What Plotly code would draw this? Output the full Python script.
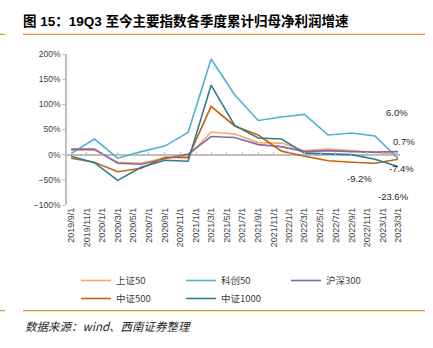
import plotly.graph_objects as go

# Quarter-end reporting periods (plotted at month start)
dates = ["2019-09-01", "2019-12-01", "2020-03-01", "2020-06-01", "2020-09-01",
         "2020-12-01", "2021-03-01", "2021-06-01", "2021-09-01", "2021-12-01",
         "2022-03-01", "2022-06-01", "2022-09-01", "2022-12-01", "2023-03-01"]

# Cumulative YoY growth of net profit attributable to parent (%)
sz50 = [9, 9, -15, -17, -6, -3, 45, 41, 24, 23, 8, 11, 8, 5, 0.7]
kc50 = [2, 31, -7, 6, 17, 44, 190, 119, 68, 75, 80, 39, 43, 37, -7.4]
hs300 = [11, 11, -17, -19, -8, 1, 36, 34, 20, 16, 6, 8, 6, 5, 6.0]
zz500 = [-7, -15, -34, -27, -5, -6, 96, 57, 39, 7, -3, -12, -15, -17, -9.2]
zz1000 = [-3, -16, -51, -25, -11, -13, 138, 58, 33, 31, 3, 1, 0, -9, -23.6]

series_names = ["上证50", "科创50", "沪深300", "中证500", "中证1000"]
series_values = [sz50, kc50, hs300, zz500, zz1000]
series_colors = ["#F9A862", "#4FB3CF", "#8A66B0", "#C8620F", "#2E7D8C"]

tick_dates = ["2019-09-01", "2019-11-01", "2020-01-01", "2020-03-01", "2020-05-01",
              "2020-07-01", "2020-09-01", "2020-11-01", "2021-01-01", "2021-03-01",
              "2021-05-01", "2021-07-01", "2021-09-01", "2021-11-01", "2022-01-01",
              "2022-03-01", "2022-05-01", "2022-07-01", "2022-09-01", "2022-11-01",
              "2023-01-01", "2023-03-01"]
tick_text = ["2019/9/1", "2019/11/1", "2020/1/1", "2020/3/1", "2020/5/1",
             "2020/7/1", "2020/9/1", "2020/11/1", "2021/1/1", "2021/3/1",
             "2021/5/1", "2021/7/1", "2021/9/1", "2021/11/1", "2022/1/1",
             "2022/3/1", "2022/5/1", "2022/7/1", "2022/9/1", "2022/11/1",
             "2023/1/1", "2023/3/1"]

# Latest-quarter value labels: (text, x, y, horizontal shift in px)
end_labels = [("6.0%", "2023-02-25", 84, 0),
              ("0.7%", "2023-03-01", 27, 6),
              ("-7.4%", "2023-03-01", -27, 4),
              ("-9.2%", "2022-10-02", -47, 0),
              ("-23.6%", "2023-02-11", -83, 0)]

W, H = 433, 348
ML, MR, MT, MB = 67, 33, 54, 143
x_range = ["2019-08-16", "2023-03-09"]
FONT = "Liberation Sans, Arial, Noto Sans CJK SC, sans-serif"
CJK = "Noto Sans CJK SC, Liberation Sans, sans-serif"

fig = go.Figure()
for i, (name, vals, col) in enumerate(zip(series_names, series_values, series_colors)):
    fig.add_trace(go.Scatter(
        x=dates, y=vals, name=name, mode="lines",
        line=dict(color=col, width=1.6),
        legend="legend" if i < 3 else "legend2",
    ))

# carrier trace for the tick axis drawn along the zero line
fig.add_trace(go.Scatter(x=[dates[0]], y=[None], xaxis="x2", showlegend=False,
                         hoverinfo="skip"))

for txt, xv, yv, dx in end_labels:
    fig.add_annotation(x=xv, y=yv, text=txt, showarrow=False, xref="x", yref="y",
                       xshift=dx,
                       font=dict(family=FONT, size=9.5, color="#262626"))

pw = W - ML - MR
ph = H - MT - MB


def px_x(p):
    return (p - ML) / pw


def px_y(p):
    return (H - MB - p) / ph


rule_color = "#D4953A"
for yy in (34.3, 310.7):
    fig.add_shape(type="line", xref="paper", yref="paper",
                  x0=px_x(23), x1=px_x(425), y0=px_y(yy), y1=px_y(yy),
                  line=dict(color=rule_color, width=1.2))
    fig.add_shape(type="line", xref="paper", yref="paper",
                  x0=px_x(0), x1=px_x(5), y0=px_y(yy), y1=px_y(yy),
                  line=dict(color=rule_color, width=1.2))

fig.add_annotation(text="数据来源：wind、西南证券整理", xref="paper", yref="paper",
                   x=px_x(23), y=px_y(325.7), xanchor="left", yanchor="middle",
                   showarrow=False,
                   font=dict(family=CJK, size=11.5, color="#262626", style="italic"))

legend_common = dict(orientation="h", xref="container", yref="container",
                     xanchor="left", yanchor="top", bgcolor="rgba(0,0,0,0)",
                     font=dict(family=CJK, size=9.5, color="#404040"),
                     entrywidth=60, entrywidthmode="pixels", itemwidth=30,
                     tracegroupgap=0)

fig.update_layout(
    width=W, height=H,
    margin=dict(l=ML, r=MR, t=MT, b=MB, autoexpand=False),
    paper_bgcolor="white", plot_bgcolor="white",
    title=dict(text="<b>图 15：19Q3 至今主要指数各季度累计归母净利润增速</b>",
               xref="container", yref="container", x=23 / W, y=1 - 21.7 / H,
               xanchor="left", yanchor="middle",
               font=dict(family="Liberation Sans, Noto Sans CJK SC, sans-serif",
                         size=13.5, color="#000000")),
    xaxis=dict(type="date", range=x_range, tickvals=tick_dates, ticktext=tick_text,
               tickangle=-90, showgrid=False, showline=False, ticks="",
               zeroline=False,
               tickfont=dict(family=FONT, size=9, color="#404040")),
    xaxis2=dict(type="date", range=x_range, tickvals=tick_dates, overlaying="x",
                anchor="free", position=1 / 3, side="top", ticks="outside",
                ticklen=3, tickcolor="#BFBFBF", tickwidth=1,
                showticklabels=False, showgrid=False, showline=False,
                zeroline=False),
    yaxis=dict(range=[-100, 200], dtick=50, tick0=0, ticksuffix="%",
               showgrid=False, showline=True, linecolor="#BFBFBF", linewidth=1.5,
               ticks="outside", ticklen=3, tickcolor="#BFBFBF",
               zeroline=True, zerolinecolor="#BFBFBF", zerolinewidth=2,
               tickfont=dict(family=FONT, size=8.5, color="#404040")),
    legend=dict(x=76 / W, y=1 - 266 / H, **legend_common),
    legend2=dict(x=76 / W, y=1 - 284 / H, **legend_common),
    showlegend=True,
)

fig.write_html("out.html")
